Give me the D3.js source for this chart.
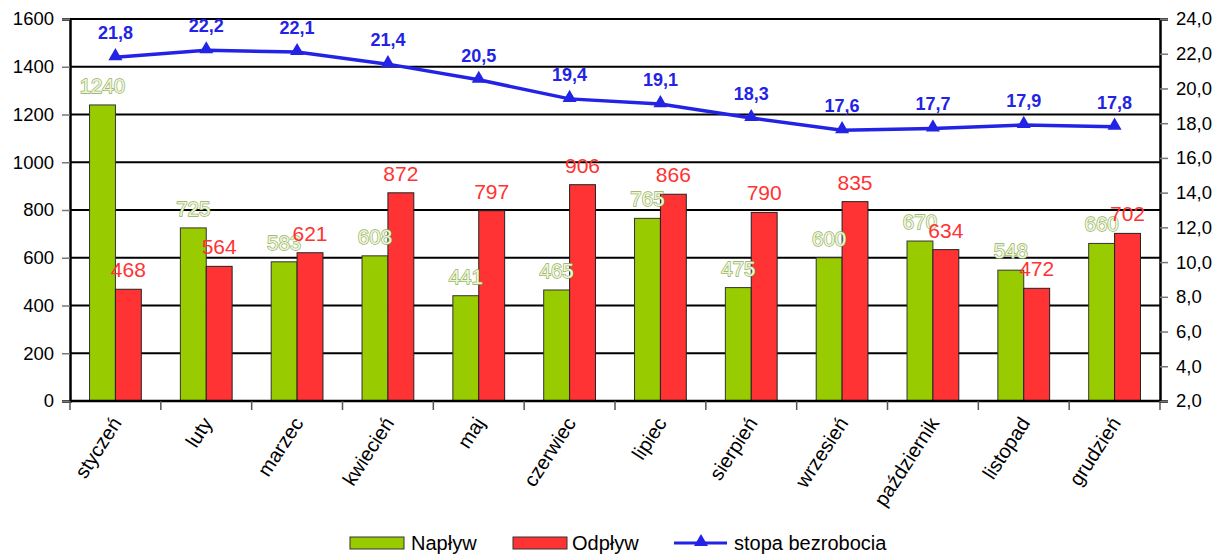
<!DOCTYPE html>
<html>
<head>
<meta charset="utf-8">
<script src="https://cdn.jsdelivr.net/npm/d3@7"></script>
<style>
  body { margin: 0; background: #fff; }
  text { font-family: Arial, "Liberation Sans", sans-serif; }
</style>
</head>
<body>
<svg id="chart" width="1221" height="556"></svg>
<script>
// data
const months = ['styczeń', 'luty', 'marzec', 'kwiecień', 'maj', 'czerwiec',
  'lipiec', 'sierpień', 'wrzesień', 'październik', 'listopad', 'grudzień'];
const naplyw = [1240, 725, 583, 608, 441, 465, 765, 475, 600, 670, 548, 660];
const odplyw = [468, 564, 621, 872, 797, 906, 866, 790, 835, 634, 472, 702];
const stopa = [21.8, 22.2, 22.1, 21.4, 20.5, 19.4, 19.1, 18.3, 17.6, 17.7, 17.9, 17.8];
const leftTicks = [0, 200, 400, 600, 800, 1000, 1200, 1400, 1600];
const rightTicks = [2, 4, 6, 8, 10, 12, 14, 16, 18, 20, 22, 24];

const green = '#99cc00', red = '#ff3333', blue = '#2323e6';
const plotL = 70, plotR = 1160, plotT = 19, plotB = 401;

const svg = d3.select('#chart');

const x = d3.scaleBand().domain(months).range([plotL, plotR]).paddingInner(0.43).paddingOuter(0.215);
const x0 = d3.scaleBand().domain(months).range([plotL, plotR]);
const sub = d3.scaleBand().domain(['n', 'o']).range([0, x.bandwidth()]);
const y = d3.scaleLinear().domain([0, 1600]).range([plotB, plotT]);
const y2 = d3.scaleLinear().domain([2, 24]).range([plotB, plotT]);

// gridlines
svg.append('g').selectAll('line')
  .data(leftTicks.filter(d => d > 0))
  .join('line')
  .attr('x1', plotL).attr('x2', plotR)
  .attr('y1', d => y(d)).attr('y2', d => y(d))
  .attr('stroke', '#000').attr('stroke-width', 2);

// bars
const groups = svg.append('g').selectAll('g')
  .data(months)
  .join('g')
  .attr('transform', d => `translate(${x(d)},0)`);

groups.append('rect')
  .attr('x', sub('n'))
  .attr('y', (d, i) => y(naplyw[i]))
  .attr('width', sub.bandwidth())
  .attr('height', (d, i) => y(0) - y(naplyw[i]))
  .attr('fill', green).attr('stroke', '#333').attr('stroke-width', 1);

groups.append('rect')
  .attr('x', sub('o'))
  .attr('y', (d, i) => y(odplyw[i]))
  .attr('width', sub.bandwidth())
  .attr('height', (d, i) => y(0) - y(odplyw[i]))
  .attr('fill', red).attr('stroke', '#222').attr('stroke-width', 1);

// left axis
const yAxis = svg.append('g')
  .attr('transform', `translate(${plotL},0)`)
  .call(d3.axisLeft(y).tickValues(leftTicks).tickSize(8).tickPadding(8).tickFormat(d3.format('d')));
yAxis.select('.domain').attr('stroke', '#000').attr('stroke-width', 2.5);
yAxis.selectAll('.tick line').attr('stroke', '#777').attr('stroke-width', 1.5);
yAxis.selectAll('.tick text').attr('font-size', 18.5).attr('fill', '#000');

// right axis
const fmt = d => d.toFixed(1).replace('.', ',');
const y2Axis = svg.append('g')
  .attr('transform', `translate(${plotR},0)`)
  .call(d3.axisRight(y2).tickValues(rightTicks).tickSize(8).tickPadding(8).tickFormat(fmt));
y2Axis.select('.domain').attr('stroke', '#000').attr('stroke-width', 2.5);
y2Axis.selectAll('.tick line').attr('stroke', '#777').attr('stroke-width', 1.5);
y2Axis.selectAll('.tick text').attr('font-size', 18.5).attr('fill', '#000');

// x axis
const xAxis = svg.append('g')
  .attr('transform', `translate(0,${plotB})`);
xAxis.append('line').attr('x1', plotL).attr('x2', plotR).attr('stroke', '#000').attr('stroke-width', 2.5);
xAxis.selectAll('.tk')
  .data(months.map(m => x0(m)).concat([plotR]))
  .join('line')
  .attr('x1', d => d).attr('x2', d => d)
  .attr('y1', 0).attr('y2', 9)
  .attr('stroke', '#555').attr('stroke-width', 1.5);
xAxis.selectAll('.lbl')
  .data(months)
  .join('text')
  .attr('font-size', 20)
  .attr('text-anchor', 'end')
  .attr('transform', d => `translate(${x0(d) + x0.bandwidth() / 2 + 7},${22}) rotate(-57)`)
  .text(d => d);

// bar labels
groups.append('text')
  .attr('x', sub('n') + sub.bandwidth() / 2)
  .attr('y', (d, i) => y(naplyw[i]) - 12)
  .attr('text-anchor', 'middle')
  .attr('font-size', 20.5)
  .attr('fill', '#eef5dc')
  .attr('stroke', '#8fae5a').attr('stroke-width', 1.3)
  .attr('paint-order', 'stroke')
  .text((d, i) => naplyw[i]);

groups.append('text')
  .attr('x', sub('o') + sub.bandwidth() / 2)
  .attr('y', (d, i) => y(odplyw[i]) - 12)
  .attr('text-anchor', 'middle')
  .attr('font-size', 21)
  .attr('fill', red)
  .text((d, i) => odplyw[i]);

// unemployment line
const cx = d => x0(d) + x0.bandwidth() / 2;
const line = d3.line().x((d, i) => cx(months[i])).y(d => y2(d));
svg.append('path')
  .datum(stopa)
  .attr('d', line)
  .attr('fill', 'none').attr('stroke', blue).attr('stroke-width', 3.5);

const tri = d3.symbol().type(d3.symbolTriangle).size(85);
svg.append('g').selectAll('path')
  .data(stopa)
  .join('path')
  .attr('d', tri)
  .attr('transform', (d, i) => `translate(${cx(months[i])},${y2(d) - 1})`)
  .attr('fill', blue);

svg.append('g').selectAll('text')
  .data(stopa)
  .join('text')
  .attr('x', (d, i) => cx(months[i]))
  .attr('y', d => y2(d) - 18)
  .attr('text-anchor', 'middle')
  .attr('font-size', 18).attr('font-weight', 'bold')
  .attr('fill', blue)
  .text(fmt);

// legend (nudged up a bit so descenders stay inside the frame)
const legend = svg.append('g').attr('transform', 'translate(0,543)');
legend.append('rect').attr('x', 350).attr('y', -6).attr('width', 54).attr('height', 12)
  .attr('fill', green).attr('stroke', '#333');
legend.append('text').attr('x', 411).attr('y', 7).attr('font-size', 20).text('Napływ');
legend.append('rect').attr('x', 513).attr('y', -6).attr('width', 54).attr('height', 12)
  .attr('fill', red).attr('stroke', '#333');
legend.append('text').attr('x', 572).attr('y', 7).attr('font-size', 20).text('Odpływ');
legend.append('line').attr('x1', 674).attr('x2', 727).attr('y1', 0).attr('y2', 0)
  .attr('stroke', blue).attr('stroke-width', 3);
legend.append('path').attr('d', tri).attr('transform', 'translate(701,-1)').attr('fill', blue);
legend.append('text').attr('x', 734).attr('y', 7).attr('font-size', 20).text('stopa bezrobocia');
</script>
</body>
</html>
